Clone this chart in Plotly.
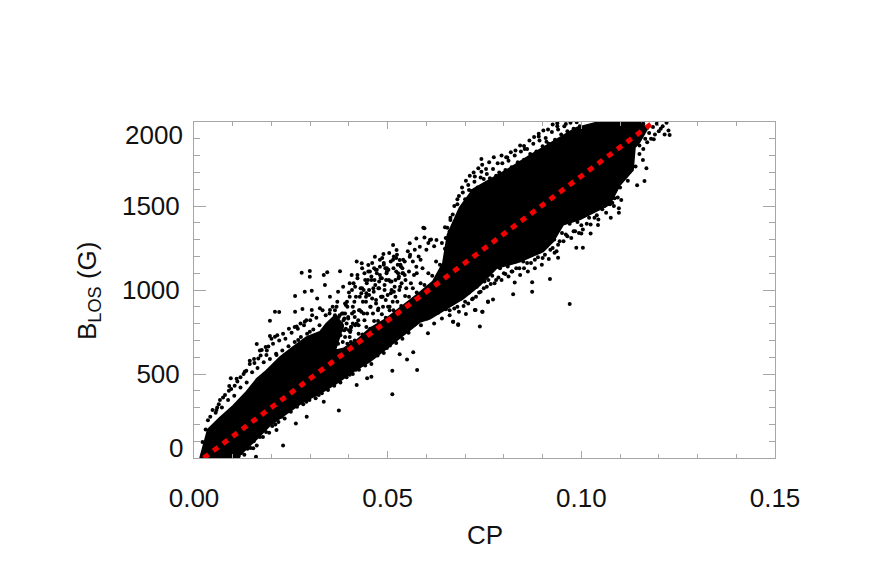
import plotly.graph_objects as go

# Dense core of the scatter: outline (CP, B_LOS)
core_cp = [.0016,.0026,.0036,.0067,.0101,.0136,.0162,.0187,.0222,.0256,.0291,.0325,.0342,.0365,.0385,.0364,.0385,.0420,.0454,.0497,.0540,.0583,.0617,.0643,.0655,.0686,.0721,.0772,.0816,.0867,.0910,.0953,.0987,.1039,.1090,.1150,.1170,.1150,.1138,.1133,.1099,.1073,.1056,.0996,.0953,.0927,.0901,.0841,.0781,.0738,.0695,.0652,.0609,.0583,.0540,.0497,.0454,.0411,.0368,.0325,.0282,.0239,.0196,.0162,.0127,.0110]
core_b = [0,87,170,240,310,395,470,520,600,660,720,750,800,850,790,640,650,700,770,830,905,985,1050,1160,1330,1490,1600,1665,1725,1800,1860,1915,1965,1996,2000,2000,1960,1880,1850,1714,1625,1510,1490,1420,1390,1290,1230,1170,1130,1030,950,890,830,810,730,655,575,515,445,385,335,265,195,115,35,0]

# Individual scatter points (CP, B_LOS)
pts_cp = [.0278,.0299,.0299,.0335,.0344,.0377,.0286,.0304,.0261,.0338,.0318,.0196,.0209,.0220,.0261,.0280,.0265,.0286,.0304,.0325,.0196,.0209,.0162,.0175,.0192,.0144,.0095,.0110,.0091,.0067,.0058,.0131,.0166,.0187,.0213,.0269,.0299,.0351,.0368,.0351,.0372,.0385,.0407,.0420,.0433,.0450,.0467,.0489,.0514,.0523,.0557,.0583,.0574,.0595,.0595,.0480,.0497,.0531,.0557,.0574,.0540,.0402,
 .0230,.0263,.0291,.0374,.0512,.0576,.0512,.0550,.0531,.0566,.0604,.0669,.0682,.0738,.0727,.0745,.0759,.0420,.0447,.0458,.0335,.0213,.0153,.0160,
 .0970,.0873,.0824,.0919,.0873,.0828,.0772,.0759,.0744,.0725,.0702,.0682,.0669,.0987,.1004,.0940,.0931,.1024,.1000,.1043,.1076,.1097,.1097,.1103,.1086,.1144,.1163,.1168,.1159,.1187,.1228,.0742,.0742,.0725,.0809,.0852,.0890,.0910,.0938,.0960,.0680,.0710,.0662,.0648,.0626,.0609,.0592,
 .0390,.0395,.0400,.0405,.0410,.0412,.0415,.0418,.0422,.0425,.0428,.0430,.0434,.0436,.0440,.0442,.0445,.0447,.0450,.0452,.0455,.0458,.0460,.0462,.0465,.0468,.0470,.0472,.0475,.0478,.0480,.0483,.0485,.0488,.0490,.0492,.0495,.0498,.0500,.0503,.0505,.0508,.0510,.0513,.0515,.0518,.0520,.0524,.0527,.0530,.0533,.0536,.0540,.0544,.0548,.0552,.0555,.0560,.0565,.0570,.0575,.0580,.0585,.0590,.0600,.0605,.0612,.0620,
 .0378,.0382,.0388,.0392,.0398,.0403,.0408,.0413,.0416,.0424,.0432,.0438,.0444,.0449,.0456,.0463,.0469,.0476,.0482,.0487,.0494,.0501,.0507,.0516,.0522,.0529,.0538,.0546,.0558,.0568]
pts_b = [1103,1113,1079,1089,1105,1111,990,996,964,1030,950,817,871,869,871,887,782,811,881,891,726,722,679,643,663,579,474,472,429,345,286,514,593,613,613,702,752,881,901,960,990,1020,1089,1169,1159,1149,1198,1214,1268,1238,1278,1258,1307,1367,1313,1139,1099,1178,1198,1139,1099,1040,
 75,206,246,282,379,524,520,587,617,629,742,811,792,782,881,871,931,434,474,484,335,167,58,8,
 917,990,974,1065,1046,1044,944,929,871,881,857,796,811,1252,1252,1192,1222,1337,1337,1387,1430,1460,1486,1535,1546,1623,1649,1724,1774,1897,1923,1780,1704,1675,1788,1857,1913,1883,1992,1988,1540,1595,1417,1373,1297,1297,1371,
 860,930,985,780,900,1040,840,960,1090,790,880,1010,1130,930,820,1060,980,860,1110,1000,900,1080,950,860,1130,1030,940,1100,880,1010,1180,960,1070,900,1150,1030,940,1110,970,1060,900,1170,1000,930,1130,1020,960,1210,1100,1000,1150,1040,1180,1090,1010,1230,1110,1040,1170,1240,1100,1200,1180,1130,1240,1280,1300,1260,
 800,860,760,910,830,750,1000,870,790,820,870,1000,960,1060,900,1010,1120,890,1070,960,1130,900,1050,990,1190,1080,1130,1060,1210,1090]

# Points along the upper edge of the left branch
upleft_cp = [.0022,.0030,.0036,.0042,.0048,.0056,.0064,.0072,.0080,.0088,.0096,.0104,.0112,.0120,.0128,.0136,.0144,.0150,.0156,.0164,.0172,.0180,.0188,.0196,.0204,.0212,.0220,.0228,.0236,.0244,.0252,.0260,.0268,.0276,.0284,.0292,.0300,.0308,.0316,.0324,.0332,.0340]
upleft_b = [95,170,225,245,285,270,320,300,375,345,410,370,455,420,500,450,560,510,565,535,610,570,640,590,680,620,700,640,710,665,745,690,770,720,790,740,820,765,835,790,880,850]

# Second row of points above that edge
upleft2_cp = [.0060,.0075,.0090,.0105,.0120,.0135,.0155,.0170,.0185,.0200,.0215,.0230,.0245,.0260,.0275,.0290,.0305]
upleft2_b = [300,360,400,430,480,520,590,640,660,710,730,740,770,780,800,820,850]

# Points along the lower edge, left half
lowleft_cp = [.0105,.0115,.0122,.0130,.0138,.0146,.0154,.0162,.0170,.0178,.0186,.0194,.0202,.0210,.0218,.0226,.0234,.0242,.0250,.0258,.0266,.0274,.0282,.0290,.0298,.0306,.0314,.0322,.0330,.0338,.0346,.0354,.0362,.0370,.0378,.0386,.0394,.0402,.0410,.0418,.0426,.0434,.0442,.0450,.0458,.0466,.0474,.0482,.0490,.0498,.0506,.0514,.0522,.0530,.0538,.0546,.0554,.0562,.0570,.0578,.0586,.0594,.0602,.0610]
lowleft_b = [15,10,30,20,55,60,100,75,125,125,155,150,190,200,215,245,235,290,275,315,305,345,320,335,345,390,355,375,385,425,405,445,430,475,450,510,480,495,500,525,525,565,550,590,560,605,610,645,625,655,670,715,685,740,710,760,745,790,795,810,790,870,830,855]

# Points along the top of the main band, under the gap
gap_cp = [.0405,.0415,.0425,.0435,.0445,.0455,.0465,.0475,.0485,.0495,.0505,.0515,.0525,.0535,.0545,.0555,.0565,.0575,.0585,.0595,.0605,.0615,.0625,.0635]
gap_b = [690,700,740,735,780,770,815,815,855,835,880,880,930,905,965,960,1010,985,1040,1030,1100,1085,1170,1150]

# Points around the notch where the branch meets the main band
notch_cp = [.0340,.0348,.0354,.0360,.0366,.0372,.0378,.0384,.0390,.0396,.0402,.0350,.0358,.0364,.0370,.0376,.0382,.0388,.0394,.0400,.0406]
notch_b = [760,780,740,720,700,680,730,690,720,680,720,860,900,850,790,850,780,830,800,760,780]

# Points along the upper edge, right half
upright_cp = [.0640,.0648,.0654,.0660,.0668,.0674,.0680,.0688,.0694,.0700,.0708,.0716,.0724,.0732,.0740,.0748,.0756,.0764,.0772,.0780,.0788,.0796,.0804,.0812,.0820,.0828,.0836,.0844,.0852,.0860,.0868,.0876,.0884,.0892,.0900,.0908,.0916,.0924,.0932,.0940,.0948,.0956,.0964,.0972,.0980,.0988,.0996]
upright_b = [1280,1245,1370,1350,1450,1400,1510,1450,1580,1540,1625,1590,1645,1610,1670,1660,1690,1665,1720,1680,1700,1755,1715,1770,1730,1800,1760,1825,1775,1840,1810,1870,1825,1890,1855,1905,1870,1940,1895,1955,1925,1975,1945,1995,1960,1998,1975]

# Second row of points above that edge
upright2_cp = [.0650,.0662,.0672,.0684,.0692,.0702,.0712,.0722,.0734,.0744,.0754,.0762,.0774,.0784,.0794,.0806,.0818,.0830,.0842,.0854,.0866,.0878,.0890,.0902,.0914,.0926,.0938]
upright2_b = [1310,1430,1500,1560,1610,1650,1680,1700,1725,1745,1720,1760,1790,1755,1800,1790,1820,1830,1860,1840,1890,1910,1930,1950,1955,1985,1975]

# Points along the lower edge, right half
lowright_cp = [.0620,.0630,.0640,.0650,.0660,.0670,.0680,.0690,.0700,.0710,.0720,.0730,.0740,.0750,.0760,.0770,.0780,.0790,.0800,.0810,.0820,.0830,.0840,.0850,.0860,.0870,.0880,.0890,.0900,.0910,.0920,.0930,.0940,.0950,.0960,.0970,.0980,.0990,.1000,.1010,.1020,.1030,.1040,.1050,.1060,.1070,.1080,.1090,.1100,.1110,.1120,.1130,.1140,.1150]
lowright_b = [800,865,830,885,850,925,900,950,930,985,950,1020,990,1050,1060,1085,1060,1130,1100,1140,1110,1170,1130,1170,1160,1210,1180,1225,1190,1260,1240,1300,1270,1340,1330,1395,1350,1405,1385,1450,1430,1470,1445,1520,1500,1550,1520,1610,1610,1680,1650,1760,1735,1810]

# Second row of points below that edge
lowright2_cp = [.0660,.0672,.0684,.0696,.0708,.0718,.0728,.0736,.0748,.0756,.0766,.0776,.0786,.0794,.0804,.0812,.0822,.0832,.0842,.0852,.0862,.0870,.0880,.0888,.0898,.0906,.0916,.0926,.0936,.0944,.0954,.0964,.0974,.0984,.0994,.1004,.1014,.1024,.1034,.1044,.1054,.1064,.1074,.1084,.1094]
lowright2_b = [880,890,870,905,920,945,960,985,1010,1020,1035,1040,1075,1060,1095,1080,1110,1130,1090,1130,1110,1160,1130,1195,1150,1210,1185,1250,1230,1290,1290,1320,1310,1350,1340,1360,1395,1390,1430,1420,1480,1460,1510,1500,1550]

# Points at the far top-right tip
tip_cp = [.1150,.1160,.1165,.1170,.1175,.1180,.1185,.1190,.1195,.1200,.1205,.1210,.1215,.1220,.1225,.1160,.1170]
tip_b = [1860,1840,1900,1880,1935,1900,1970,1925,1990,1945,1960,1975,1925,1995,1950,1990,1965]

# Extra points filling the sparse upper cloud
cloud_cp = [.0352,.0358,.0364,.0370,.0375,.0380,.0385,.0390,.0356,.0362,.0368,.0374,.0380,.0386,.0392,.0398,.0404,.0410,.0396,.0402,.0408,.0414,.0420,.0426,.0432,.0438,.0444,.0416,.0422,.0428,.0434,.0440,.0446,.0452,.0458,.0464,.0470,.0476,.0454,.0460,.0466,.0472,.0478,.0484,.0490,.0496,.0502,.0508,.0514,.0520,.0526,.0532,.0538,.0544,.0480,.0486,.0492,.0498,.0504,.0510,.0516,.0522,.0528,.0534]
cloud_b = [760,820,880,930,750,800,860,920,720,680,790,840,760,820,770,840,760,800,900,960,860,930,800,880,980,860,930,1020,1070,960,1010,1100,1040,970,1060,990,920,1010,1110,1160,1060,1120,1050,960,1160,1060,1120,980,1180,1060,1150,1020,1100,1170,1090,1190,1000,1130,1220,1050,1200,1110,1070,1140]

all_cp = pts_cp + upleft_cp + upleft2_cp + lowleft_cp + gap_cp + notch_cp + upright_cp + upright2_cp + lowright_cp + lowright2_cp + tip_cp + cloud_cp
all_b = pts_b + upleft_b + upleft2_b + lowleft_b + gap_b + notch_b + upright_b + upright2_b + lowright_b + lowright2_b + tip_b + cloud_b

# Dashed fit line end points
fit_cp = [.0025, .1187]
fit_b = [0, 2000]

x_major = [0.0, 0.05, 0.10, 0.15]
x_labels = ["0.00", "0.05", "0.10", "0.15"]
x_minor = [.01,.02,.03,.04,.06,.07,.08,.09,.11,.12,.13,.14]
y_major = [500, 1000, 1500]
y_labels = ["500", "1000", "1500"]
y_minor = [100,200,300,400,600,700,800,900,1100,1200,1300,1400,1600,1700,1800,1900]

FONT = "Liberation Sans"
GREY = "#a6a6a6"
INK = "#111111"

fig = go.Figure()
fig.add_trace(go.Scatter(x=core_cp, y=core_b, mode="lines", fill="toself", fillcolor="black",
                         line=dict(color="black", width=2), hoverinfo="skip", showlegend=False))
fig.add_trace(go.Scatter(x=all_cp, y=all_b, mode="markers",
                         marker=dict(color="black", size=4, line=dict(width=0)), showlegend=False))
fig.add_trace(go.Scatter(x=fit_cp, y=fit_b, mode="lines",
                         line=dict(color="#f00000", width=5, dash="6px,6px"), showlegend=False))

axis_common = dict(showgrid=False, zeroline=False, showline=True, linecolor=GREY, linewidth=1,
                   mirror="allticks", ticks="inside", tickcolor=GREY, tickwidth=1,
                   tickfont=dict(family=FONT, size=26, color=INK))

fig.update_xaxes(range=[0, 0.15], tickvals=x_major, ticktext=x_labels, ticklen=7, ticklabelstandoff=17,
                 minor=dict(tickvals=x_minor, ticks="inside", ticklen=4, tickcolor=GREY, tickwidth=1),
                 **axis_common)
fig.update_yaxes(range=[0, 2000], tickvals=y_major, ticktext=y_labels, ticklen=12, ticklabelstandoff=8,
                 minor=dict(tickvals=y_minor, ticks="inside", ticklen=6, tickcolor=GREY, tickwidth=1),
                 **axis_common)

annos = [
    dict(x=0, y=2000, text="2000", xref="paper", yref="y", xanchor="right", yanchor="middle", xshift=-9, yshift=-13),
    dict(x=0, y=0, text="0", xref="paper", yref="y", xanchor="right", yanchor="middle", xshift=-9, yshift=10),
    dict(x=0.5, y=0, text="CP", xref="paper", yref="paper", xanchor="center", yanchor="middle", yshift=-77),
    dict(x=0, y=0.497, text="B<sub>LOS</sub> (G)", xref="paper", yref="paper", textangle=-90,
         xanchor="center", yanchor="middle", xshift=-106),
]
for a in annos:
    a.update(showarrow=False, font=dict(family=FONT, size=26, color=INK))
fig.update_layout(annotations=annos, width=864, height=573, autosize=False,
                  margin=dict(l=186, r=96.5, t=114, b=123, pad=0),
                  paper_bgcolor="white", plot_bgcolor="white")
fig.write_html("out.html")
